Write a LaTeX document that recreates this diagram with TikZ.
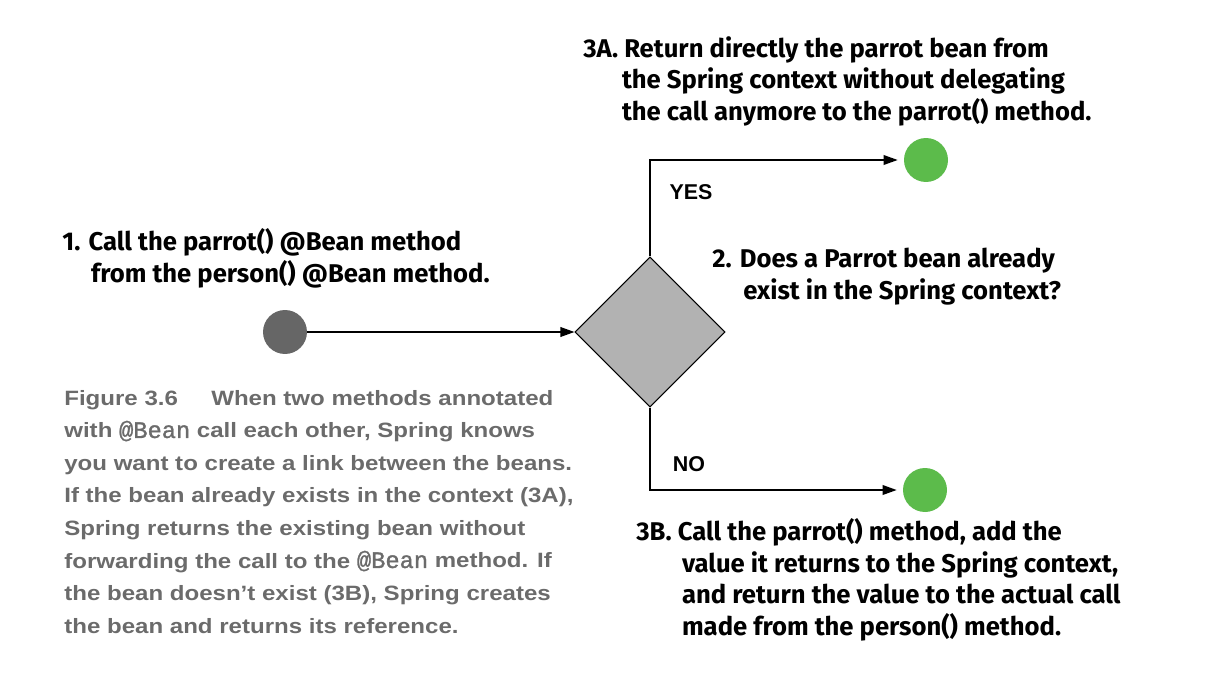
\documentclass[tikz,border=0pt]{standalone}
\usepackage{xcolor}
\usepackage{fontspec}
\setmainfont{Liberation Sans}
\newfontfamily\stepfont{Fira Sans}
\newfontfamily\capfont[FakeStretch=1.16]{Liberation Sans}
\newfontfamily\codefont[FakeBold=1.2]{Liberation Mono}
\usepackage{tikz}
\usetikzlibrary{arrows.meta,shapes.geometric,positioning}

\definecolor{startgray}{HTML}{666666}
\definecolor{diamondgray}{HTML}{B2B2B2}
\definecolor{endgreen}{HTML}{5CBB4B}
\definecolor{captiongray}{HTML}{6B6B6B}

\newcommand{\beancode}{{\codefont\mdseries\fontsize{13.5}{18.5}\selectfont @Bean}}

\begin{document}
\begin{tikzpicture}[x=0.02cm, y=-0.02cm,
		flow/.style={line width=0.9pt, -{Triangle[length=8pt,width=5.5pt]}},
		endpoint/.style={circle, fill=endgreen, minimum size=0.88cm, inner sep=0},
		steptext/.style={font=\stepfont\bfseries\fontsize{14.6}{17.9}\selectfont, align=left, inner sep=0, anchor=base west},
		answer/.style={font=\fontsize{12.2}{14}\selectfont\bfseries, inner sep=0}]
		\useasboundingbox (0,0) rectangle (1220,686);

		% start, decision and the two outcomes
		\node[circle, fill=startgray, minimum size=0.88cm, inner sep=0] (start) at (285,332) {};
		\node[diamond, draw, fill=diamondgray, line width=0.6pt, minimum width=3cm, minimum height=3cm, inner sep=0] (decision) at (650,332) {};
		\node[endpoint] (yesend) at (926,160) {};
		\node[endpoint] (noend) at (925,490) {};

		\draw[flow] (start) -- (decision);
		\draw[flow, shorten >=3.4pt] (decision.north) |- (yesend);
		\draw[flow, shorten >=3.4pt] (decision.south) |- (noend);

		\node[answer] (yes) at (691,192) {YES};
		\node[answer] (no) at (689,464) {NO};

		% step texts (anchored at the baseline of their last line)
		\node[steptext] (call) at (62,282) {1. Call the parrot() @Bean method\\\hspace*{16.4pt}from the person() @Bean method.};
		\node[steptext] (ask) at (712,299) {2. Does a Parrot bean already\\\hspace*{17.6pt}exist in the Spring context?};
		\node[steptext] (ret) at (583,120) {3A. Return directly the parrot bean from\\\hspace*{22pt}the Spring context without delegating\\\hspace*{22pt}the call anymore to the parrot() method.};
		\node[steptext] (create) at (636,635) {3B. Call the parrot() method, add the\\\hspace*{26pt}value it returns to the Spring context,\\\hspace*{26pt}and return the value to the actual call\\\hspace*{26pt}made from the person() method.};

		% caption
		\node[font=\capfont\bfseries\fontsize{11.8}{18.5}\selectfont, text=captiongray, align=left, inner sep=0, anchor=base west] (caption) at (64,633) {Figure 3.6\hspace*{19pt}When two methods annotated\\with \beancode{} call each other, Spring knows\\you want to create a link between the beans.\\If the bean already exists in the context (3A),\\Spring returns the existing bean without\\forwarding the call to the \beancode{} method. If\\the bean doesn’t exist (3B), Spring creates\\the bean and returns its reference.};
	\end{tikzpicture}
\end{document}
